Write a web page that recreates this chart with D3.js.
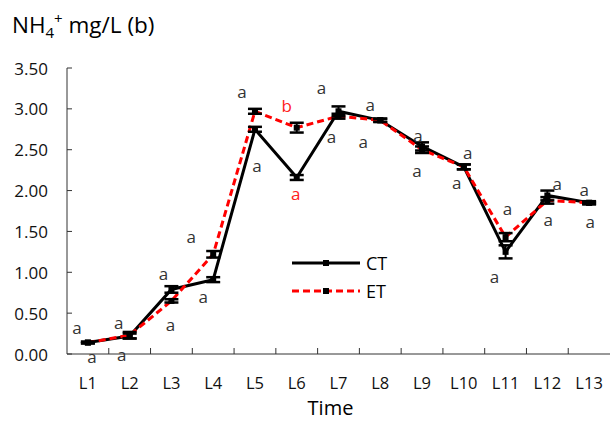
<!DOCTYPE html>
<html>
<head>
<meta charset="utf-8">
<script src="https://cdn.jsdelivr.net/npm/d3@7"></script>
<style>
  html, body { margin: 0; padding: 0; background: #fff; }
  svg { display: block; font-family: "Open Sans", sans-serif; }
</style>
</head>
<body>
<div id="chart"></div>
<script>
// Data
const categories = ["L1", "L2", "L3", "L4", "L5", "L6", "L7", "L8", "L9", "L10", "L11", "L12", "L13"];
const ctValues = [0.14, 0.22, 0.79, 0.91, 2.75, 2.16, 2.97, 2.86, 2.54, 2.29, 1.25, 1.94, 1.85];
const ctErrors = [0.01, 0.03, 0.04, 0.03, 0.03, 0.03, 0.06, 0.02, 0.05, 0.03, 0.08, 0.06, 0.01];
const etValues = [0.14, 0.23, 0.65, 1.22, 2.97, 2.77, 2.91, 2.86, 2.50, 2.29, 1.43, 1.88, 1.85];
const etErrors = [0.01, 0.04, 0.02, 0.04, 0.03, 0.06, 0.03, 0.02, 0.04, 0.03, 0.05, 0.04, 0.02];
const yTicks = [0, 0.5, 1, 1.5, 2, 2.5, 3, 3.5];

// significance letters (upper / lower) and where they sit, in data units
const upperLetters = ["a", "a", "a", "a", "a", "b", "a", "a", "a", "a", "a", "a", "a"];
const upperLetterY = [0.32, 0.38, 0.98, 1.44, 3.21, 3.04, 3.26, 3.05, 2.68, 2.46, 1.78, 2.09, 2.01];
const lowerLetters = ["a", "a", "a", "a", "a", "a", "a", "a", "a", "a", "a", "a", "a"];
const lowerLetterY = [-0.03, 0.0, 0.355, 0.70, 2.31, 1.96, 2.66, 2.60, 2.24, 2.10, 0.95, 1.64, 1.62];
const redLetterCats = ["L6"];

// Layout
const W = 610, H = 421;
const M = { left: 67, right: 0, top: 68, bottom: 67 };
const upperDx = [-11, -11, -8, -22, -13, -10, -17, -10, -4, 4, 2, 10, -5];
const lowerDx = [4, -8, -1, -10, 2, -1, -7, -17, -5, -7, -11, 1, 1];

const svg = d3.select("#chart").append("svg")
  .attr("width", W).attr("height", H);

const x = d3.scaleBand().domain(categories).range([M.left, W - M.right]).padding(0);
const y = d3.scaleLinear().domain([0, 3.5]).range([H - M.bottom, M.top]);
const cx = c => x(c) + x.bandwidth() / 2;

const axisColor = "#333";

// Y axis
svg.append("line")
  .attr("x1", M.left).attr("x2", M.left)
  .attr("y1", y(3.5)).attr("y2", y(0))
  .attr("stroke", axisColor).attr("stroke-width", 1);
svg.selectAll(".ytick").data(yTicks).enter().append("line")
  .attr("x1", M.left).attr("x2", M.left + 5)
  .attr("y1", d => y(d)).attr("y2", d => y(d))
  .attr("stroke", axisColor);
svg.selectAll(".ylabel").data(yTicks).enter().append("text")
  .attr("x", 48).attr("y", d => y(d))
  .attr("text-anchor", "end").attr("dominant-baseline", "central")
  .attr("font-size", 17).attr("fill", "#111")
  .text(d => d3.format(".2f")(d));

// X axis
svg.append("line")
  .attr("x1", M.left).attr("x2", W)
  .attr("y1", y(0)).attr("y2", y(0))
  .attr("stroke", axisColor);
svg.selectAll(".xtick").data(categories.slice(1)).enter().append("line")
  .attr("x1", d => x(d)).attr("x2", d => x(d))
  .attr("y1", y(0)).attr("y2", y(0) - 6)
  .attr("stroke", axisColor);
svg.selectAll(".xlabel").data(categories).enter().append("text")
  .attr("x", d => cx(d)).attr("y", 388.5)
  .attr("text-anchor", "middle")
  .attr("font-size", 16.5).attr("fill", "#111")
  .text(d => d);

svg.append("text")
  .attr("x", (M.left + W) / 2 - 8).attr("y", 415)
  .attr("text-anchor", "middle")
  .attr("font-size", 20).attr("fill", "#000")
  .text("Time");

// Title
const title = svg.append("text")
  .attr("x", 12).attr("y", 33)
  .attr("font-size", 22.5).attr("fill", "#000");
title.append("tspan").text("NH");
title.append("tspan").attr("font-size", 15).attr("dy", 5).text("4");
title.append("tspan").attr("font-size", 15).attr("dy", -14).text("+");
title.append("tspan").attr("dy", 9).text(" mg/L (b)");

// Series
const series = [
  { name: "CT", values: ctValues, errors: ctErrors, color: "#000", dash: null },
  { name: "ET", values: etValues, errors: etErrors, color: "#ff0000", dash: "7,4" }
];

const line = d3.line().x((d, i) => cx(categories[i])).y(d => y(d));

series.forEach(s => {
  svg.append("path")
    .attr("d", line(s.values))
    .attr("fill", "none")
    .attr("stroke", s.color)
    .attr("stroke-width", 3)
    .attr("stroke-dasharray", s.dash);
});

series.forEach(s => {
  const g = svg.append("g");
  s.values.forEach((v, i) => {
    const px = cx(categories[i]);
    const e = s.errors[i];
    g.append("line")
      .attr("x1", px).attr("x2", px)
      .attr("y1", y(v - e)).attr("y2", y(v + e))
      .attr("stroke", "#000").attr("stroke-width", 2);
    [v - e, v + e].forEach(t => {
      g.append("line")
        .attr("x1", px - 7).attr("x2", px + 7)
        .attr("y1", y(t)).attr("y2", y(t))
        .attr("stroke", "#000").attr("stroke-width", 2.5);
    });
    g.append("rect")
      .attr("x", px - 3).attr("y", y(v) - 3)
      .attr("width", 6).attr("height", 6)
      .attr("fill", "#000");
  });
});

// Letters
const letterColor = (c) => redLetterCats.includes(c) ? "#ff2020" : "#333";
categories.forEach((c, i) => {
  svg.append("text")
    .attr("x", cx(c) + upperDx[i]).attr("y", y(upperLetterY[i]))
    .attr("text-anchor", "middle").attr("dominant-baseline", "central")
    .attr("font-size", 17).attr("fill", letterColor(c))
    .text(upperLetters[i]);
  svg.append("text")
    .attr("x", cx(c) + lowerDx[i]).attr("y", y(lowerLetterY[i]))
    .attr("text-anchor", "middle").attr("dominant-baseline", "central")
    .attr("font-size", 17).attr("fill", letterColor(c))
    .text(lowerLetters[i]);
});

// Legend
const legend = svg.append("g").attr("transform", "translate(292,263)");
series.forEach((s, i) => {
  const ly = i * 28;
  legend.append("line")
    .attr("x1", 0).attr("x2", 68).attr("y1", ly).attr("y2", ly)
    .attr("stroke", s.color).attr("stroke-width", 3)
    .attr("stroke-dasharray", s.dash);
  legend.append("rect")
    .attr("x", 31).attr("y", ly - 3).attr("width", 6).attr("height", 6)
    .attr("fill", "#000");
  legend.append("text")
    .attr("x", 74).attr("y", ly)
    .attr("dominant-baseline", "central")
    .attr("font-size", 18).attr("fill", "#000")
    .text(s.name);
});
</script>
</body>
</html>
